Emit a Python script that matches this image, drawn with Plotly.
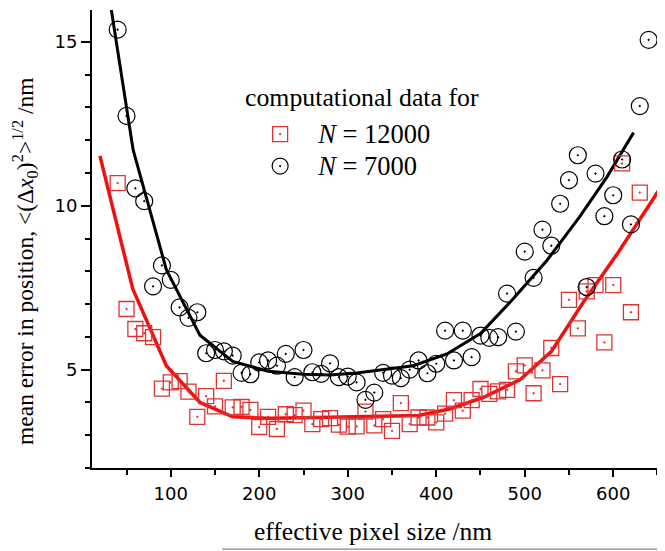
import plotly.graph_objects as go

# ---- data ----
pixel_size = [40, 50, 60, 70, 80, 90, 100, 110, 120, 130, 140, 150, 160, 170, 180, 190, 200,
              210, 220, 230, 240, 250, 260, 270, 280, 290, 300, 310, 320, 330, 340, 350, 360,
              370, 380, 390, 400, 410, 420, 430, 440, 450, 460, 470, 480, 490, 500, 510, 520,
              530, 540, 550, 560, 570, 580, 590, 600, 610, 620, 630, 640]

err_n7000 = [15.37, 12.74, 10.53, 10.14, 7.54, 8.18, 7.74, 6.90, 6.58, 6.75, 5.50, 5.60, 5.56,
             5.43, 4.90, 4.86, 5.22, 5.28, 5.12, 5.48, 4.77, 5.60, 4.92, 4.87, 5.19, 4.77, 4.79,
             4.61, 4.08, 4.30, 4.90, 4.82, 4.74, 5.00, 5.28, 4.89, 5.18, 6.19, 5.28, 6.19, 5.38,
             6.04, 5.97, 5.99, 7.32, 6.16, 8.60, 7.80, 9.27, 8.78, 10.06, 10.78, 11.54, 7.52,
             10.98, 9.68, 10.32, 11.41, 9.43, 13.04, 15.06]

err_n12000 = [10.69, 6.85, 6.24, 6.11, 5.99, 4.42, 4.61, 4.65, 4.33, 3.56, 4.19, 3.88, 4.66,
              3.85, 3.86, 3.77, 3.25, 3.56, 3.19, 3.64, 3.61, 3.75, 3.34, 3.49, 3.52, 3.32, 3.26,
              3.27, 3.72, 3.30, 3.49, 3.13, 3.98, 3.34, 3.54, 3.54, 3.39, 3.66, 4.07, 3.75, 4.07,
              4.41, 4.26, 4.34, 4.38, 4.95, 5.13, 4.28, 4.98, 5.66, 4.56, 7.13, 6.26, 7.39, 7.58,
              5.83, 7.58, 11.29, 6.75, 10.40]

fit_x_12000 = [20, 57, 95, 133, 170, 210, 250, 300, 350, 380, 415, 453, 495, 530, 566, 605, 645, 665]
fit_y_12000 = [11.52, 7.47, 5.12, 4.00, 3.56, 3.52, 3.53, 3.56, 3.57, 3.60, 3.80, 4.15, 4.70,
               5.55, 7.05, 8.55, 10.20, 11.05]

fit_x_7000 = [20, 57.5, 95, 133, 170, 210, 250, 280, 310, 336, 374, 412, 450, 487, 525, 562, 593, 623]
fit_y_7000 = [18.2, 11.7, 8.05, 6.05, 5.25, 4.95, 4.86, 4.84, 4.90, 4.99, 5.12, 5.48, 6.10,
              7.16, 8.33, 9.66, 10.88, 12.23]

x_major_ticks = [100, 200, 300, 400, 500, 600]
y_major_ticks = [5, 10, 15]

RED_MARK = "#dd3333"
RED_LINE = "#ee1111"
SERIF = "Liberation Serif, Times New Roman, serif"
SANS = "DejaVu Sans, Verdana, sans-serif"

fig = go.Figure()

fig.add_trace(go.Scatter(
    x=fit_x_7000, y=fit_y_7000, mode="lines",
    line=dict(color="black", width=3), showlegend=False, hoverinfo="skip"))
fig.add_trace(go.Scatter(
    x=fit_x_12000, y=fit_y_12000, mode="lines",
    line=dict(color=RED_LINE, width=3.5), showlegend=False, hoverinfo="skip"))

fig.add_trace(go.Scatter(
    x=pixel_size[:len(err_n12000)], y=err_n12000, mode="markers",
    name='<span style="font-size:26.5px"><i>N</i> = 12000</span>',
    marker=dict(symbol="square-open-dot", size=15, color=RED_MARK,
                line=dict(color=RED_MARK, width=1.3))))
fig.add_trace(go.Scatter(
    x=pixel_size, y=err_n7000, mode="markers",
    name='<span style="font-size:26.5px"><i>N</i> = 7000</span>',
    marker=dict(symbol="circle-open-dot", size=17, color="black",
                line=dict(color="black", width=1.2))))

fig.update_layout(
    width=657, height=543,
    margin=dict(l=84, r=0, t=2, b=83),
    paper_bgcolor="white", plot_bgcolor="white",
    showlegend=True,
    legend=dict(
        x=0.262, y=0.775, xanchor="left", yanchor="top",
        bgcolor="rgba(0,0,0,0)",
        font=dict(family=SERIF, size=22.3, color="black"),
        itemwidth=66, tracegroupgap=0,
    ),
    xaxis=dict(
        range=[11, 658.5],
        tickvals=x_major_ticks,
        ticks="outside", ticklen=7, tickwidth=2, tickcolor="black",
        minor=dict(dtick=50, tick0=0, ticks="outside", ticklen=5, tickwidth=2, tickcolor="black"),
        showline=True, linecolor="black", linewidth=2,
        showgrid=False, zeroline=False,
        ticklabelstandoff=1,
        tickfont=dict(family=SANS, size=18, color="black"),
    ),
    yaxis=dict(
        range=[2, 15.97],
        tickvals=y_major_ticks,
        ticks="outside", ticklen=9, tickwidth=2, tickcolor="black",
        minor=dict(dtick=1, tick0=0, ticks="outside", ticklen=5, tickwidth=2, tickcolor="black"),
        showline=True, linecolor="black", linewidth=2,
        showgrid=False, zeroline=False,
        tickfont=dict(family=SANS, size=18, color="black"),
    ),
)

# legend heading
fig.add_annotation(
    xref="paper", yref="paper", x=0.2635, y=0.808,
    xanchor="left", yanchor="middle", showarrow=False,
    text="computational data for",
    font=dict(family=SERIF, size=25.8, color="black"))

fig.add_annotation(
    xref="paper", yref="paper", x=-0.117, y=0.452,
    xanchor="center", yanchor="middle", textangle=-90, showarrow=False,
    text="mean error in position, &lt;(Δ<i>x</i><sub>0</sub>)<sup>2</sup>&gt;<sup>1/2</sup> /nm",
    font=dict(family=SERIF, size=23.5, color="black"))

fig.add_annotation(
    xref="paper", yref="paper", x=0.49, y=-0.1376,
    xanchor="center", yanchor="middle", showarrow=False,
    text="effective pixel size /nm",
    font=dict(family=SERIF, size=25.5, color="black"))

fig.add_shape(type="line", xref="paper", yref="paper",
              x0=0.227, x1=1.0, y0=-0.177, y1=-0.177,
              line=dict(color="#888888", width=1.2))

fig.write_html("out.html")
